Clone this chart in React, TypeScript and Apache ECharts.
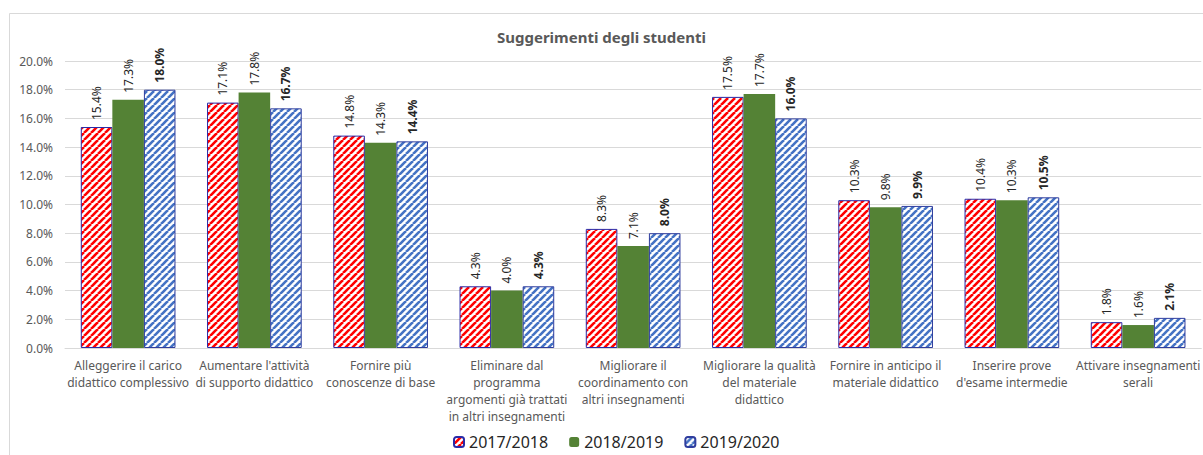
import React, { useEffect, useRef } from "react";
import * as echarts from "echarts";

const categories = [
  "Alleggerire il carico\ndidattico complessivo",
  "Aumentare l'attività\ndi supporto didattico",
  "Fornire più\nconoscenze di base",
  "Eliminare dal\nprogramma\nargomenti già trattati\nin altri insegnamenti",
  "Migliorare il\ncoordinamento con\naltri insegnamenti",
  "Migliorare la qualità\ndel materiale\ndidattico",
  "Fornire in anticipo il\nmateriale didattico",
  "Inserire prove\nd'esame intermedie",
  "Attivare insegnamenti\nserali",
];

const seriesNames = ["2017/2018", "2018/2019", "2019/2020"];
const values2017 = [15.4, 17.1, 14.8, 4.3, 8.3, 17.5, 10.3, 10.4, 1.8];
const values2018 = [17.3, 17.8, 14.3, 4.0, 7.1, 17.7, 9.8, 10.3, 1.6];
const values2019 = [18.0, 16.7, 14.4, 4.3, 8.0, 16.0, 9.9, 10.5, 2.1];

const FONT = "'Noto Sans', 'Open Sans', sans-serif";

function makePattern(color: string) {
  const s = 7;
  const c = document.createElement("canvas");
  c.width = s;
  c.height = s;
  const ctx = c.getContext("2d")!;
  ctx.fillStyle = "#ffffff";
  ctx.fillRect(0, 0, s, s);
  ctx.strokeStyle = color;
  ctx.lineWidth = 2.6;
  for (let k = -1; k <= 1; k++) {
    ctx.beginPath();
    ctx.moveTo(k * s, s);
    ctx.lineTo(k * s + s, 0);
    ctx.stroke();
  }
  return c;
}

export default function App() {
  const ref = useRef<HTMLDivElement>(null);
  useEffect(() => {
    document.body.style.margin = "0";
    const chart = echarts.init(ref.current!, null, { renderer: "svg" });
    const redPat = { image: makePattern("#ff0000"), repeat: "repeat" };
    const bluePat = { image: makePattern("#4472c4"), repeat: "repeat" };
    const label = (bold: boolean) => ({
      show: true,
      position: "top",
      rotate: 90,
      align: "left",
      verticalAlign: "middle",
      distance: 7,
      fontFamily: FONT,
      fontSize: 12,
      fontWeight: bold ? "bold" : "normal",
      color: "#262626",
      formatter: (p: any) => p.value.toFixed(1) + "%",
    });
    chart.setOption({
      animation: false,
      backgroundColor: "#ffffff",
      title: {
        text: "Suggerimenti degli studenti",
        left: "center",
        top: 24,
        textStyle: { fontFamily: FONT, fontSize: 15, fontWeight: "bold", color: "#595959" },
      },
      legend: {
        data: seriesNames,
        left: 451,
        top: 432,
        itemWidth: 10,
        itemHeight: 10,
        itemGap: 21,
        padding: 2,
        textStyle: { fontFamily: FONT, fontSize: 16, color: "#262626" },
      },
      grid: { left: 65, top: 61, height: 287, width: 1141, containLabel: false },
      xAxis: {
        type: "category",
        data: categories,
        axisTick: { show: false },
        axisLine: { lineStyle: { color: "#d9d9d9" } },
        axisLabel: {
          interval: 0,
          fontFamily: FONT,
          fontSize: 12,
          color: "#595959",
          lineHeight: 17,
          margin: 9,
        },
      },
      yAxis: {
        type: "value",
        min: 0,
        max: 20,
        interval: 2,
        axisLine: { show: false },
        axisTick: { show: false },
        splitLine: { lineStyle: { color: "#d9d9d9" } },
        axisLabel: {
          fontFamily: FONT,
          fontSize: 12,
          color: "#595959",
          margin: 12,
          formatter: (v: number) => v.toFixed(1) + "%",
        },
      },
      graphic: [
        { type: "line", shape: { x1: 9.5, y1: 13.5, x2: 1203, y2: 13.5 }, style: { stroke: "#d9d9d9", lineWidth: 1 } },
        { type: "line", shape: { x1: 9.5, y1: 13.5, x2: 9.5, y2: 455 }, style: { stroke: "#d9d9d9", lineWidth: 1 } },
      ],
      series: [
        {
          name: seriesNames[0],
          type: "bar",
          data: values2017,
          barGap: "0%",
          barCategoryGap: "25%",
          itemStyle: { color: redPat, borderColor: "#2a2aa8", borderWidth: 1 },
          label: label(false),
        },
        {
          name: seriesNames[1],
          type: "bar",
          data: values2018,
          barGap: "0%",
          barCategoryGap: "25%",
          itemStyle: { color: "#548235" },
          label: label(false),
        },
        {
          name: seriesNames[2],
          type: "bar",
          data: values2019,
          barGap: "0%",
          barCategoryGap: "25%",
          itemStyle: { color: bluePat, borderColor: "#2f3d9e", borderWidth: 1 },
          label: label(true),
        },
      ],
    });
    return () => chart.dispose();
  }, []);
  return <div ref={ref} style={{ width: 1203, height: 455 }} />;
}
